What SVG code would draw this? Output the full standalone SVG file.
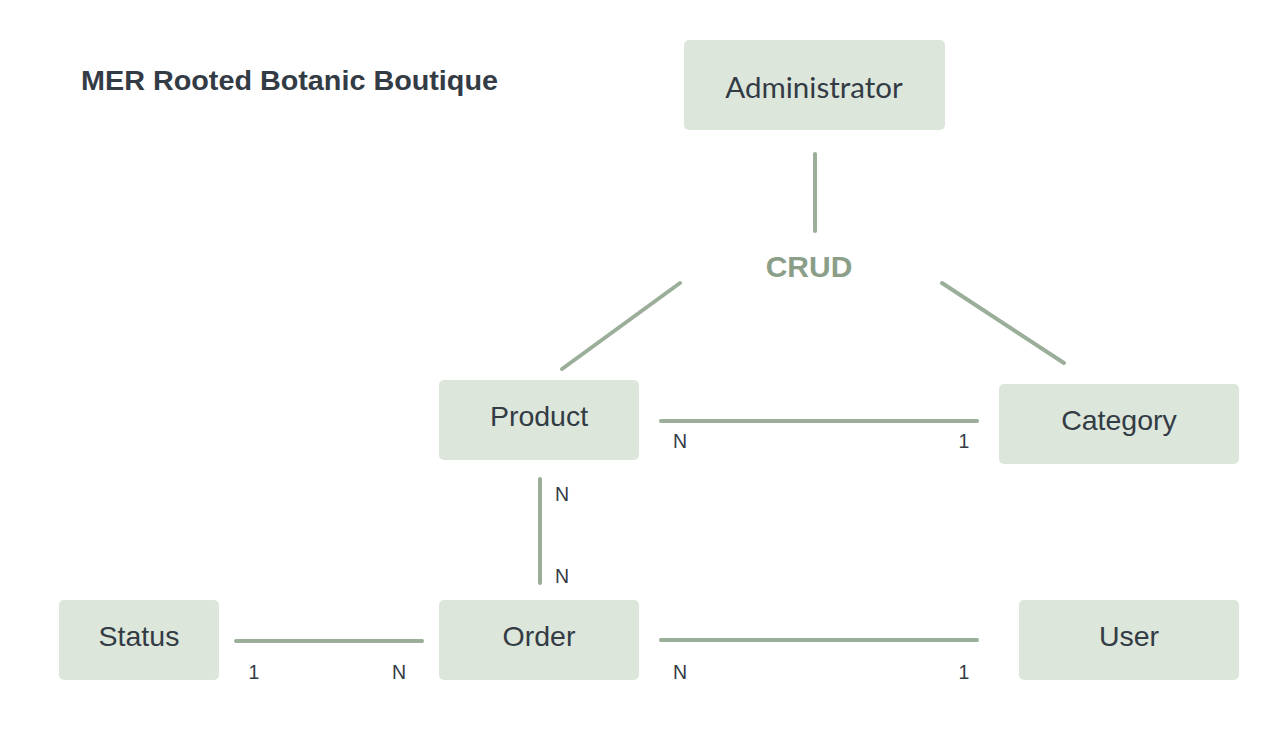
<svg xmlns="http://www.w3.org/2000/svg" width="1279" height="743" viewBox="0 0 1279 743">
<style>
.box{fill:#dce6da}
.lbl{font-family:"Liberation Sans",Arial,sans-serif;font-size:28.5px;fill:#333b45;text-anchor:middle}
.card{font-family:"Liberation Sans",Arial,sans-serif;font-size:19.5px;fill:#333b45;text-anchor:middle}
.ln{stroke:#9bae99;stroke-width:4;stroke-linecap:round;fill:none}
</style>
<rect width="1279" height="743" fill="#ffffff"/>
<text x="81" y="90" font-family="'Liberation Sans',Arial,sans-serif" font-weight="bold" font-size="27" fill="#333b45" textLength="417" lengthAdjust="spacingAndGlyphs">MER Rooted Botanic Boutique</text>
<g id="connectors">
<line class="ln" x1="815" y1="154" x2="815" y2="231"/>
<line class="ln" x1="680" y1="283" x2="562" y2="369"/>
<line class="ln" x1="942" y1="283" x2="1064" y2="363"/>
<line class="ln" x1="661" y1="421" x2="977" y2="421"/>
<line class="ln" x1="540" y1="479" x2="540" y2="583"/>
<line class="ln" x1="236" y1="641" x2="422" y2="641" stroke="#8a9e88"/>
<line class="ln" x1="661" y1="640" x2="977" y2="640"/>
<text x="809" y="276.5" font-family="'Liberation Sans',Arial,sans-serif" font-weight="bold" font-size="30" fill="#8a9e88" text-anchor="middle">CRUD</text>
<text class="card" x="680" y="448">N</text>
<text class="card" x="964" y="448">1</text>
<text class="card" x="562" y="501">N</text>
<text class="card" x="562" y="583">N</text>
<text class="card" x="254" y="679">1</text>
<text class="card" x="399" y="679">N</text>
<text class="card" x="680" y="679">N</text>
<text class="card" x="964" y="679">1</text>
</g>
<g id="administrator"><rect class="box" x="684" y="40" width="261" height="90" rx="5"/><text x="814" y="97.5" font-family="Lato,'Liberation Sans',sans-serif" font-size="29.5" fill="#333b45" text-anchor="middle">Administrator</text></g>
<g id="product"><rect class="box" x="439" y="380" width="200" height="80" rx="5"/><text class="lbl" x="539" y="426">Product</text></g>
<g id="category"><rect class="box" x="999" y="384" width="240" height="80" rx="5"/><text class="lbl" x="1119" y="430">Category</text></g>
<g id="status"><rect class="box" x="59" y="600" width="160" height="80" rx="5"/><text class="lbl" x="139" y="646">Status</text></g>
<g id="order"><rect class="box" x="439" y="600" width="200" height="80" rx="5"/><text class="lbl" x="539" y="646">Order</text></g>
<g id="user"><rect class="box" x="1019" y="600" width="220" height="80" rx="5"/><text class="lbl" x="1129" y="646">User</text></g>
</svg>
